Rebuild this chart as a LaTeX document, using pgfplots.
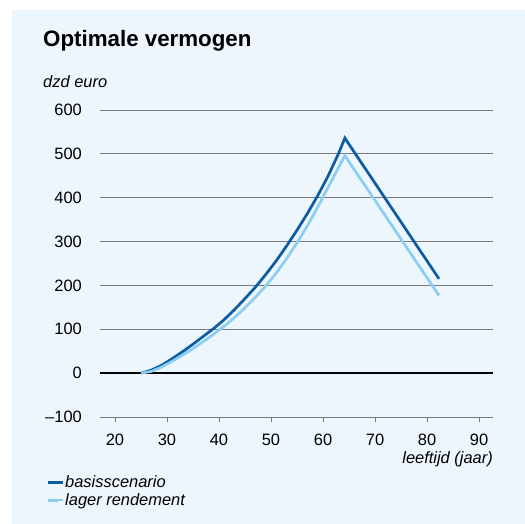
\documentclass[border=0pt]{standalone}
\usepackage{pgfplots}
\pgfplotsset{compat=1.18}
\usepackage{fontspec}
\setmainfont{Liberation Sans}
\definecolor{bg}{HTML}{EEF6FD}
\definecolor{darkb}{HTML}{0B5CA2}
\definecolor{lightb}{HTML}{8CCEF2}
\definecolor{gridc}{HTML}{7A7A7A}
\begin{document}
\begin{tikzpicture}[x=1bp,y=1bp]
\fill[white] (0,0) rectangle (525,524);
\fill[bg] (12,0) rectangle (525,514);
\node[anchor=base west, font=\fontsize{22.4}{26}\selectfont\bfseries, inner sep=0] at (43,477) {Optimale vermogen};
\node[anchor=base west, font=\fontsize{16.5}{20}\selectfont\itshape, inner sep=0] at (43,436) {dzd euro};
\node[anchor=base east, font=\fontsize{16.5}{20}\selectfont\itshape, inner sep=0] at (493,60) {leeftijd (jaar)};
\begin{axis}[at={(100bp,107bp)}, anchor=south west, width=393bp, height=307bp, scale only axis,
  xmin=17.12, xmax=92.69, ymin=-100, ymax=600,
  xtick={20,30,...,90}, ytick={-100,0,...,600},
  axis line style={draw=none},
  ymajorgrids, grid style={gridc, line width=0.9bp},
  tick align=outside, major tick length=5bp,
  xtick pos=bottom, ytick pos=left,
  xtick style={gridc, line width=0.8bp},
  ytick style={draw=none},
  ticklabel style={font=\fontsize{16.5}{20}\selectfont},
  /pgf/number format/assume math mode=true,
  yticklabel style={inner sep=0, xshift=-13bp},
  xticklabel style={inner sep=0, yshift=-12bp},
  yticklabel={\ifdim\tick pt<0pt \textendash\pgfmathparse{-\tick}\pgfmathprintnumber{\pgfmathresult}\else\pgfmathprintnumber{\tick}\fi},
  legend style={at={(axis description cs:-0.137,-0.188)}, anchor=north west, draw=none, fill=none,
    inner sep=0, font=\fontsize{16.5}{20}\selectfont\itshape, row sep=2bp,
    nodes={inner sep=1bp}},
  legend cell align=left,
  legend image code/.code={\path (0bp,0bp) -- (15bp,0bp);\draw[#1, line width=3bp] (0bp,0bp) -- (10bp,0bp);},
]
\addplot[black, line width=1.6bp, forget plot] coordinates {(17.12,0) (92.69,0)};
\addplot[darkb, line width=2.7bp] coordinates {
(25,0) (27,7) (29,18) (31,33) (33,49) (35,66) (37,84) (39,102) (41,122) (43,145) (45,170) (47,196) (49,225) (51,256) (53,290) (55,326) (57,364) (59,405) (61,450) (63,501) (64.2,536) (82.3,215)};
\addlegendentry{basisscenario}
\addplot[lightb, line width=2.7bp] coordinates {
(25,0) (27,4) (29,14) (31,27) (33,41) (35,56) (37,72) (39,89) (41,107) (43,127) (45,149) (47,173) (49,199) (51,228) (53,261) (55,297) (57,336) (59,379) (61,424) (63,469) (64.2,496) (82.3,177)};
\addlegendentry{lager rendement}
\end{axis}
\end{tikzpicture}
\end{document}
